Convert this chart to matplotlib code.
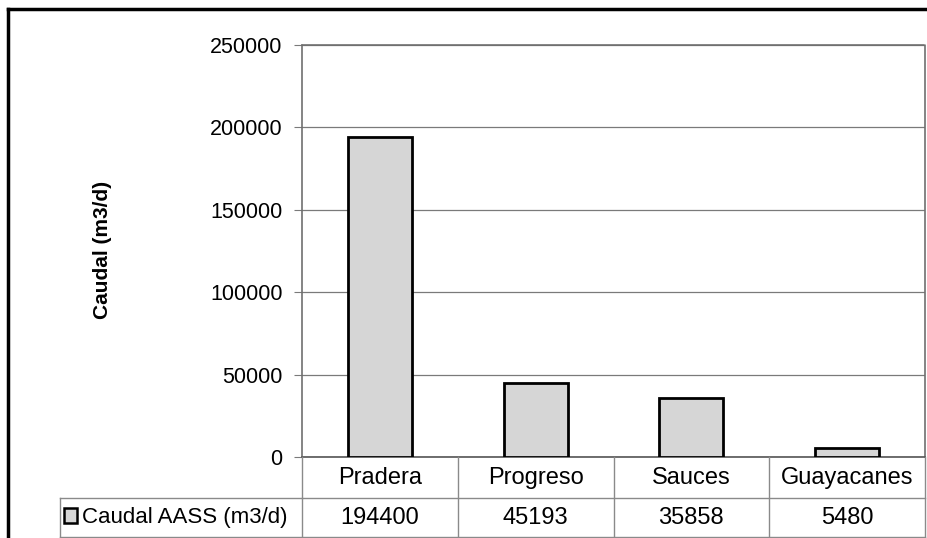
import matplotlib.pyplot as plt
from matplotlib.patches import Rectangle
from matplotlib.transforms import blended_transform_factory

plt.rcParams['font.family'] = ['Liberation Sans', 'DejaVu Sans']

categories = ["Pradera", "Progreso", "Sauces", "Guayacanes"]
caudal = [194400, 45193, 35858, 5480]
yticks = [0, 50000, 100000, 150000, 200000, 250000]
series_label = "Caudal AASS (m3/d)"
ylabel = "Caudal (m3/d)"

W, H = 927, 538
fig = plt.figure(figsize=(W / 100, H / 100), dpi=100)

def fx(px):
    return px / W

def fy(py):
    return 1 - py / H

ax = fig.add_axes([fx(302), fy(457), fx(925) - fx(302), fy(45) - fy(457)])
x = list(range(len(categories)))
ax.bar(x, caudal, width=0.41, color="#d6d6d6", edgecolor="black", linewidth=2, zorder=3)
ax.set_xlim(-0.5, len(categories) - 0.5)
ax.set_ylim(0, 250000)
ax.set_yticks(yticks)
ax.set_yticklabels([str(t) for t in yticks], fontsize=15.5)
ax.set_xticks([])
ax.yaxis.grid(True, color="#7a7a7a", linewidth=0.9, zorder=0)
ax.tick_params(axis="y", length=6, color="#7a7a7a", pad=8)
for side in ["top", "right", "left"]:
    ax.spines[side].set_color("#6f6f6f")
    ax.spines[side].set_linestyle((0, (1, 1)))
    ax.spines[side].set_linewidth(1.2)
ax.spines["bottom"].set_color("#555555")
ax.spines["bottom"].set_linewidth(1.2)

fig.text(fx(103), fy(250), ylabel, rotation=90, fontsize=15, fontweight="bold",
         ha="center", va="center")

# data table below the plot
tr = blended_transform_factory(ax.transData, fig.transFigure)
grey = "#8a8a8a"
row1_y = fy(478)
row2_y = fy(518)
for i, (cat, val) in enumerate(zip(categories, caudal)):
    fig.text(i, row1_y, cat, transform=tr, ha="center", va="center", fontsize=17)
    fig.text(i, row2_y, str(val), transform=tr, ha="center", va="center", fontsize=17)
for i in range(len(categories) + 1):
    fig.add_artist(plt.Line2D([i - 0.5, i - 0.5], [fy(457), fy(537)], transform=tr,
                              color=grey, linewidth=1))
fig.add_artist(plt.Line2D([fx(302), fx(925)], [fy(498), fy(498)], color=grey, linewidth=1))
fig.add_artist(plt.Line2D([fx(60), fx(925)], [fy(537), fy(537)], color=grey, linewidth=1))
fig.add_artist(plt.Line2D([fx(60), fx(302)], [fy(498), fy(498)], color=grey, linewidth=1))
fig.add_artist(plt.Line2D([fx(60), fx(60)], [fy(498), fy(537)], color=grey, linewidth=1))

# legend key in the label cell
fig.add_artist(Rectangle((fx(64), fy(523)), fx(13), fy(508) - fy(523),
                         facecolor="#d6d6d6", edgecolor="black", linewidth=1.8))
fig.text(fx(82), row2_y, series_label, ha="left", va="center", fontsize=16)

# outer chart border
fig.add_artist(plt.Line2D([fx(8), fx(8)], [fy(9), 0], color="black", linewidth=2.5))
fig.add_artist(plt.Line2D([fx(8), 1], [fy(9), fy(9)], color="black", linewidth=2.5))

fig.savefig("out.png", dpi=100, facecolor="white")
